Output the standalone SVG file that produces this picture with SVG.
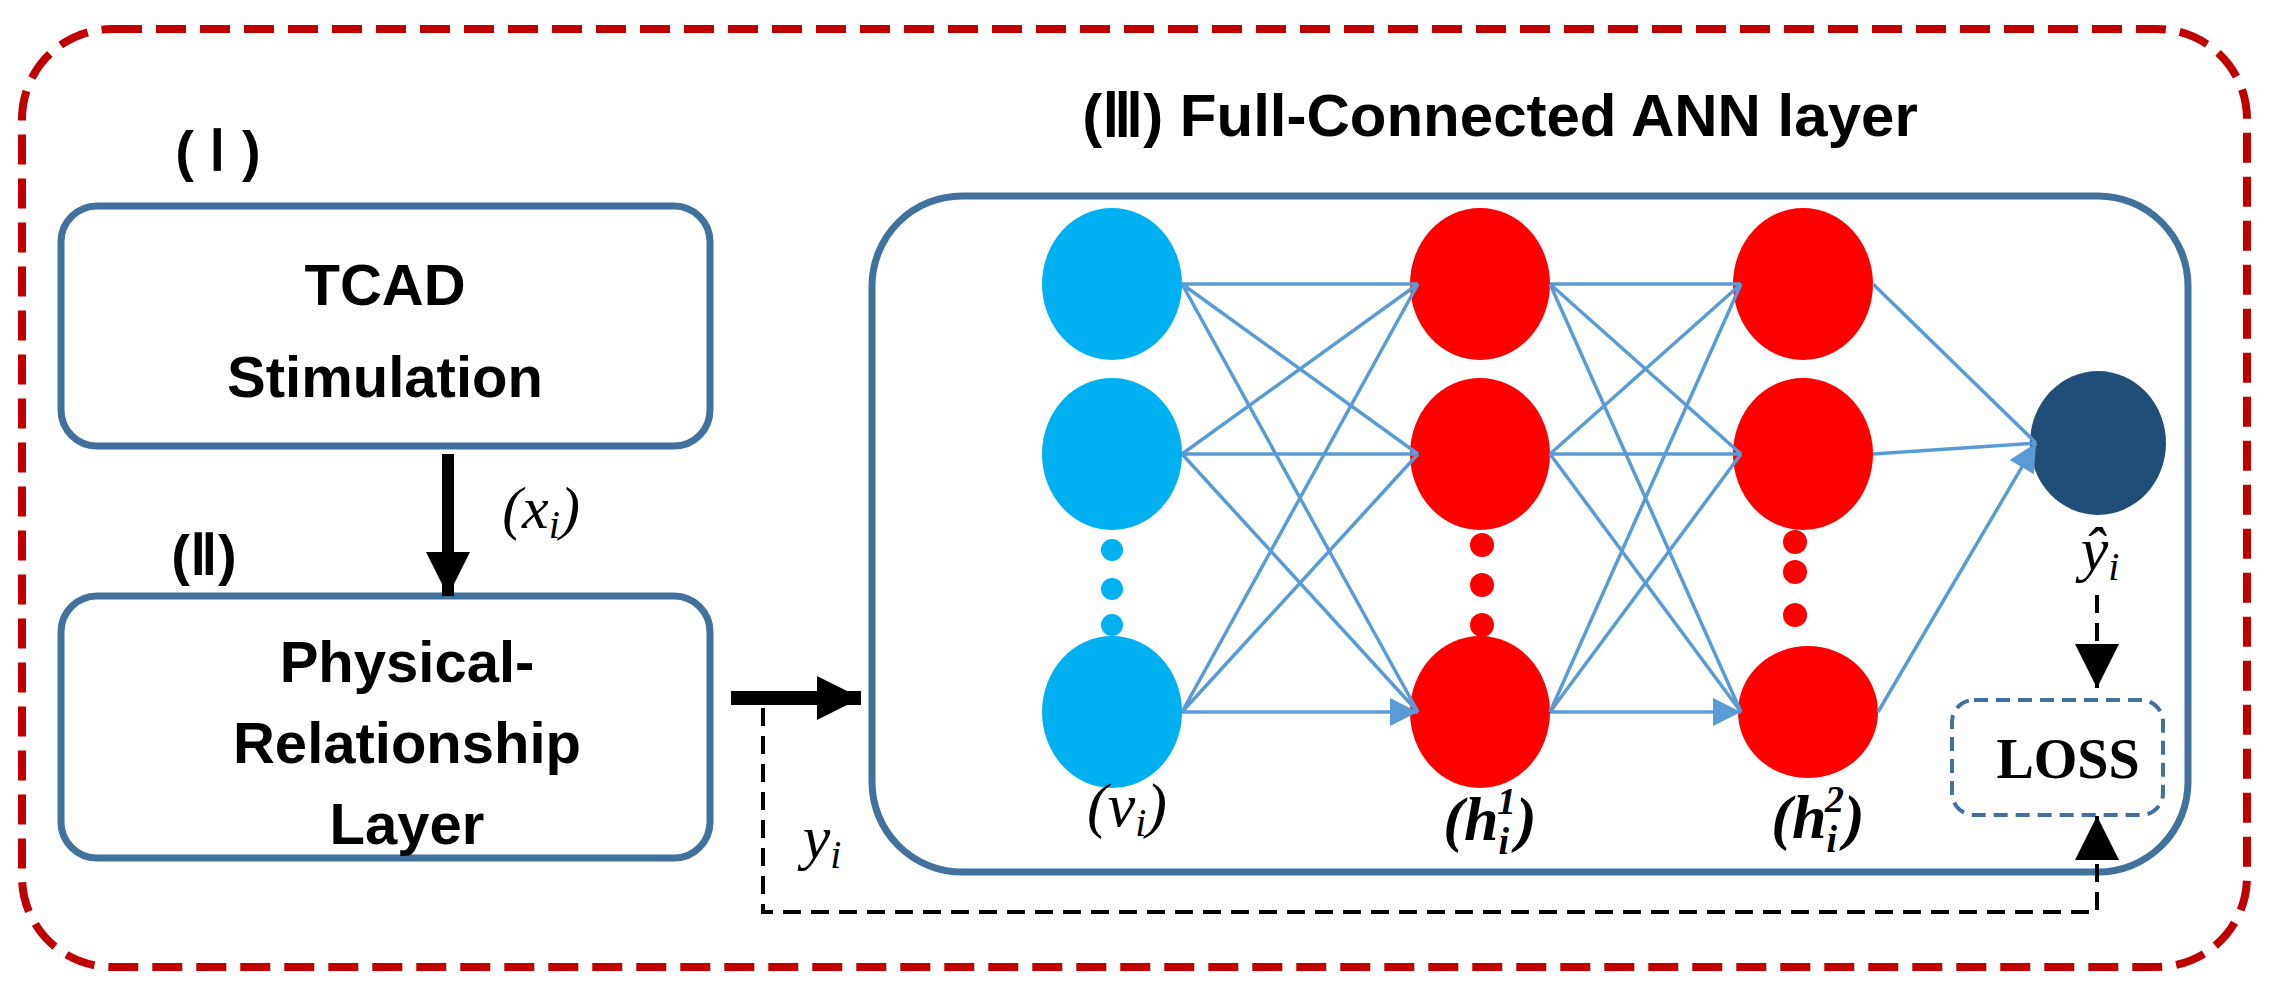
<svg xmlns="http://www.w3.org/2000/svg" width="2280" height="993" viewBox="0 0 2280 993">
<style>
.lbl{font-family:"Liberation Sans",Arial,sans-serif;font-weight:bold;fill:#000;text-anchor:middle}
.m{font-family:"Liberation Serif","DejaVu Serif",serif;font-style:italic;fill:#000;text-anchor:middle}
.box{fill:#fff;stroke:#41719c;stroke-width:7}
.c{stroke:#5b9bd5;stroke-width:3.5;fill:none;marker-end:url(#ab)}
.blue{fill:#00b0f0}.red{fill:#ff0000}
</style>
<defs>
<marker id="ab" viewBox="0 0 10 10" refX="10" refY="5" markerWidth="40" markerHeight="28" orient="auto" markerUnits="userSpaceOnUse"><path d="M0,0 L10,5 L0,10 z" fill="#5b9bd5"/></marker>
<marker id="ak" viewBox="0 0 10 10" refX="10" refY="5" markerWidth="48" markerHeight="44" orient="auto" markerUnits="userSpaceOnUse"><path d="M0,0 L10,5 L0,10 z" fill="#000"/></marker>
</defs>
<rect x="22" y="29" width="2225" height="938" rx="90" fill="none" stroke="#c00000" stroke-width="8" stroke-dasharray="30,14"/>
<g id="n1">
<rect class="box" x="61" y="206" width="649" height="240" rx="36"/>
<text class="lbl" x="385" y="305" font-size="58">TCAD</text>
<text class="lbl" x="385" y="397" font-size="58">Stimulation</text>
</g>
<text class="lbl" x="218" y="170" font-size="56">( Ⅰ )</text>
<g id="n2">
<rect class="box" x="61" y="596" width="649" height="262" rx="36"/>
<text class="lbl" x="407" y="682" font-size="58">Physical-</text>
<text class="lbl" x="407" y="763" font-size="58">Relationship</text>
<text class="lbl" x="407" y="844" font-size="58">Layer</text>
</g>
<text class="lbl" x="204" y="574" font-size="56">(Ⅱ)</text>
<g id="n3">
<rect class="box" x="872" y="196" width="1316" height="676" rx="90"/>
<text class="lbl" x="1500" y="136" font-size="60">(Ⅲ) Full-Connected ANN layer</text>
</g>
<g id="v"><ellipse class="blue" cx="1112" cy="284" rx="70" ry="76"/><ellipse class="blue" cx="1112" cy="454" rx="70" ry="76"/><ellipse class="blue" cx="1112" cy="712" rx="70" ry="76"/>
<circle class="blue" cx="1112" cy="550" r="11"/><circle class="blue" cx="1112" cy="589" r="11"/><circle class="blue" cx="1112" cy="625" r="11"/></g>
<g id="h1"><ellipse class="red" cx="1480" cy="284" rx="70" ry="76"/><ellipse class="red" cx="1480" cy="454" rx="70" ry="76"/><ellipse class="red" cx="1480" cy="712" rx="70" ry="76"/>
<circle class="red" cx="1482" cy="545" r="12"/><circle class="red" cx="1482" cy="585" r="12"/><circle class="red" cx="1482" cy="625" r="12"/></g>
<g id="h2"><ellipse class="red" cx="1803" cy="284" rx="70" ry="76"/><ellipse class="red" cx="1803" cy="454" rx="70" ry="76"/><ellipse class="red" cx="1808" cy="712" rx="70" ry="66"/>
<circle class="red" cx="1795" cy="542" r="12"/><circle class="red" cx="1795" cy="572" r="12"/><circle class="red" cx="1795" cy="615" r="12"/></g>
<g id="out"><ellipse cx="2098" cy="443" rx="68" ry="72" fill="#1f4e79"/></g>
<g id="loss"><rect x="1952" y="700" width="211" height="115" rx="22" fill="none" stroke="#41719c" stroke-width="4" stroke-dasharray="14,8"/>
<text x="2068" y="778" font-family="Liberation Serif,serif" font-weight="bold" font-size="56" text-anchor="middle">LOSS</text></g>
<g id="connectors">
<path class="c" d="M1182,284 L1418,284 M1182,284 L1418,454 M1182,284 L1418,712 M1182,454 L1418,284 M1182,454 L1418,454 M1182,454 L1418,712 M1182,712 L1418,284 M1182,712 L1418,454 M1182,712 L1418,712"/>
<path class="c" d="M1550,284 L1741,284 M1550,284 L1741,454 M1550,284 L1741,712 M1550,454 L1741,284 M1550,454 L1741,454 M1550,454 L1741,712 M1550,712 L1741,284 M1550,712 L1741,454 M1550,712 L1741,712"/>
<path class="c" d="M1873,284 L2036,443 M1873,454 L2036,443 M1878,712 L2036,443"/>
<line x1="448" y1="454" x2="448" y2="596" stroke="#000" stroke-width="12" marker-end="url(#ak)"/>
<line x1="731" y1="698" x2="861" y2="698" stroke="#000" stroke-width="14" marker-end="url(#ak)"/>
<path d="M763,708 L763,912 L2097,912 L2097,816" fill="none" stroke="#000" stroke-width="4" stroke-dasharray="18,10" marker-end="url(#ak)"/>
<path d="M2097,595 L2097,688" fill="none" stroke="#000" stroke-width="4" stroke-dasharray="18,10" marker-end="url(#ak)"/>
</g>
<text class="m" x="541" y="528" font-size="60">(x<tspan font-size="40" dy="10">i</tspan><tspan dy="-10">)</tspan></text>
<text class="m" x="822" y="858" font-size="62">y<tspan font-size="40" dy="10">i</tspan></text>
<text class="m" x="2100" y="570" font-size="62">ŷ<tspan font-size="40" dy="10">i</tspan></text>
<text class="m" x="1127" y="826" font-size="62">(v<tspan font-size="40" dy="10">i</tspan><tspan dy="-10">)</tspan></text>
<text class="m" x="1490" y="840" font-size="62" font-weight="bold">(h<tspan font-size="38" dy="14">i</tspan><tspan font-size="38" dx="-12" dy="-40">1</tspan><tspan dy="26">)</tspan></text>
<text class="m" x="1818" y="838" font-size="62" font-weight="bold">(h<tspan font-size="38" dy="14">i</tspan><tspan font-size="38" dx="-12" dy="-40">2</tspan><tspan dy="26">)</tspan></text>
</svg>
